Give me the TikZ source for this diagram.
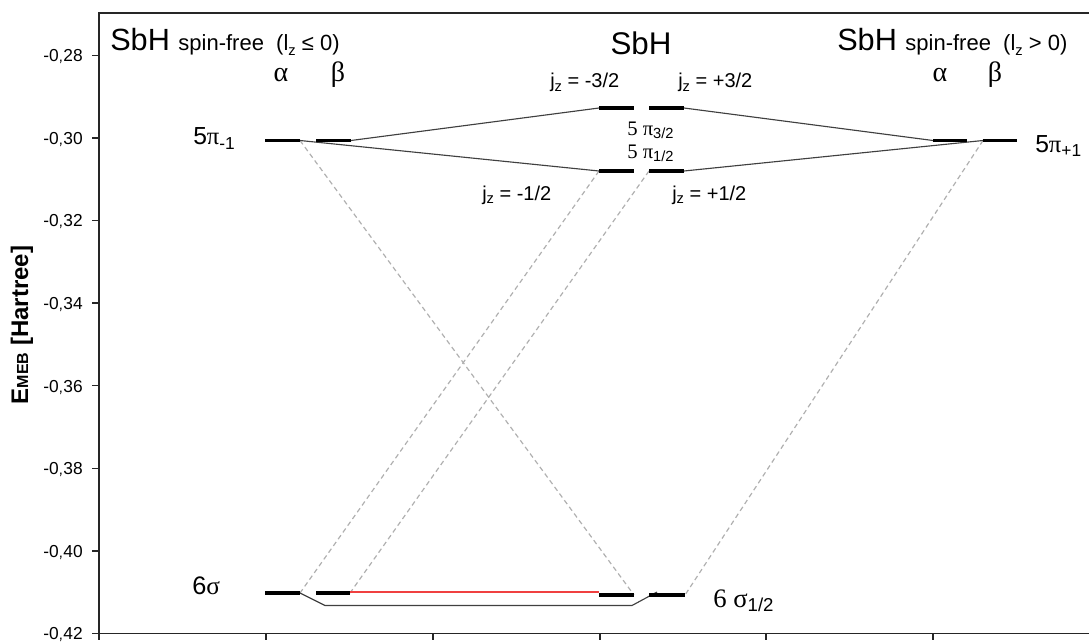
\documentclass[tikz,border=0pt]{standalone}
\usepackage{fontspec}
\setmainfont{Liberation Sans}
\newfontfamily\grk{Liberation Serif}
\definecolor{conn}{HTML}{404040}
\definecolor{dashc}{HTML}{B0B0B0}
\definecolor{redl}{HTML}{F04040}
\newcommand\fs[1]{\fontsize{#1}{#1}\selectfont}
\newcommand\lsub[1]{\raisebox{-0.35ex}{\fs{11}#1}}
\begin{document}
\begin{tikzpicture}[x=0.75pt,y=-0.75pt,
  lvl/.style={line width=2.5pt,black},
  solidc/.style={line width=0.85pt,conn},
  dashcn/.style={line width=0.9pt,dashc,dash pattern=on 3.6pt off 2.6pt},
  axisl/.style={line width=1.1pt,black!85},
  ticklab/.style={anchor=base east,inner sep=0pt,font=\fs{13}},
  txt/.style={inner sep=0pt}]
\useasboundingbox (0,0) rectangle (1089,642);
% axes
\draw[axisl] (1089,13) -- (99,13) -- (99,633.5) -- (1089,633.5);
\foreach \y/\l in {55.3/-0\textsf{,}28,137.9/-0\textsf{,}30,220.5/-0\textsf{,}32,303.1/-0\textsf{,}34,385.7/-0\textsf{,}36,468.3/-0\textsf{,}38,550.9/-0\textsf{,}40,633.5/-0\textsf{,}42}{
  \draw[axisl] (92,\y) -- (99,\y);
  \node[ticklab] (t\y) at (83,\y+6.3) {\l};
}
\foreach \x in {99,266,433,600,766,933}{
  \draw[axisl] (\x,633.5) -- (\x,640);
}
\node[txt,rotate=90] (ylab) at (22,325) {\fs{18}\bfseries E{\fs{12}MEB} [Hartree]};
% level coordinates
\coordinate (pLa-l) at (265,140.5); \coordinate (pLa-r) at (300,140.5);
\coordinate (pLb-l) at (316,140.5); \coordinate (pLb-r) at (351,140.5);
\coordinate (m3a-l) at (599,108);   \coordinate (m3a-r) at (634,108);
\coordinate (m3b-l) at (649,108);   \coordinate (m3b-r) at (684,108);
\coordinate (m1a-l) at (599,171);   \coordinate (m1a-r) at (634,171);
\coordinate (m1b-l) at (649,171);   \coordinate (m1b-r) at (684,171);
\coordinate (pRa-l) at (933,140.5); \coordinate (pRa-r) at (967,140.5);
\coordinate (pRb-l) at (983,140.5); \coordinate (pRb-r) at (1017,140.5);
\coordinate (sLa-l) at (265,593);   \coordinate (sLa-r) at (300,593);
\coordinate (sLb-l) at (316,593);   \coordinate (sLb-r) at (350,593);
\coordinate (sMa-l) at (599,595);   \coordinate (sMa-r) at (634,595);
\coordinate (sMb-l) at (649,595);   \coordinate (sMb-r) at (685,595);
\coordinate (b1) at (325,605.5); \coordinate (b2) at (632,605.5); \coordinate (b3) at (657,592);
\coordinate (r1) at (350,592); \coordinate (r2) at (599,592);
% dashed correlation lines
\draw[dashcn] (pLa-r) -- (sMa-r);
\draw[dashcn] (m1a-l) -- (sLa-r);
\draw[dashcn] (m1b-l) -- (sLb-r);
\draw[dashcn] (pRb-l) -- (sMb-r);
% solid connectors
\draw[solidc] (pLb-r) -- (m3a-l);
\draw[solidc] (pLa-r) -- (m1a-l);
\draw[solidc] (m3b-r) -- (pRa-l);
\draw[solidc] (m1b-r) -- (pRb-l);
\draw[solidc] (sLa-r) -- (b1) -- (b2) -- (b3);
\draw[line width=0.85pt,redl] (r1) -- (r2);
% levels
\foreach \n in {pLa,pLb,m3a,m3b,m1a,m1b,pRa,pRb,sLa,sLb,sMa,sMb}{
  \draw[lvl] (\n-l) -- (\n-r);
}
% labels
\node[txt,anchor=base west] (tl) at (110,51) {\fs{23}SbH \fs{16.5}spin-free\ \ (l\lsub{z} ≤ 0)};
\node[txt,anchor=base west] (tr) at (837,51) {\fs{23}SbH \fs{16.5}spin-free\ \ (l\lsub{z} > 0)};
\node[txt,anchor=base] (tm) at (641,55) {\fs{23.5}SbH};
\node[txt,anchor=base] (aL) at (281,82) {\fs{21}\grk α};
\node[txt,anchor=base] (bL) at (338,82) {\fs{21}\grk β};
\node[txt,anchor=base] (aR) at (940,82) {\fs{21}\grk α};
\node[txt,anchor=base] (bR) at (995,82) {\fs{21}\grk β};
\node[txt,anchor=base west] (piL) at (193,144.5) {\fs{18.5}5{\grk π}\lsub{\fs{13}-1}};
\node[txt,anchor=base west] (piR) at (1035,152) {\fs{18.5}5{\grk π}\lsub{\fs{13}+1}};
\node[txt,anchor=base west] (j3m) at (550,88) {\fs{15}j\lsub{z} = -3/2};
\node[txt,anchor=base west] (j3p) at (678,88) {\fs{15}j\lsub{z} = +3/2};
\node[txt,anchor=base west] (j1m) at (482,200) {\fs{15}j\lsub{z} = -1/2};
\node[txt,anchor=base west] (j1p) at (672,200) {\fs{15}j\lsub{z} = +1/2};
\node[txt,anchor=base west] (p32) at (627,135) {\fs{15.5}{\grk 5 π}\lsub{\fs{11}3/2}};
\node[txt,anchor=base west] (p12) at (627,158) {\fs{15.5}{\grk 5 π}\lsub{\fs{11}1/2}};
\node[txt,anchor=base west] (sL) at (192,594) {\fs{19}6{\grk σ}};
\node[txt,anchor=base west] (sM) at (713,607) {\fs{20}{\grk 6 σ}\lsub{\fs{14}1/2}};
\end{tikzpicture}
\end{document}
